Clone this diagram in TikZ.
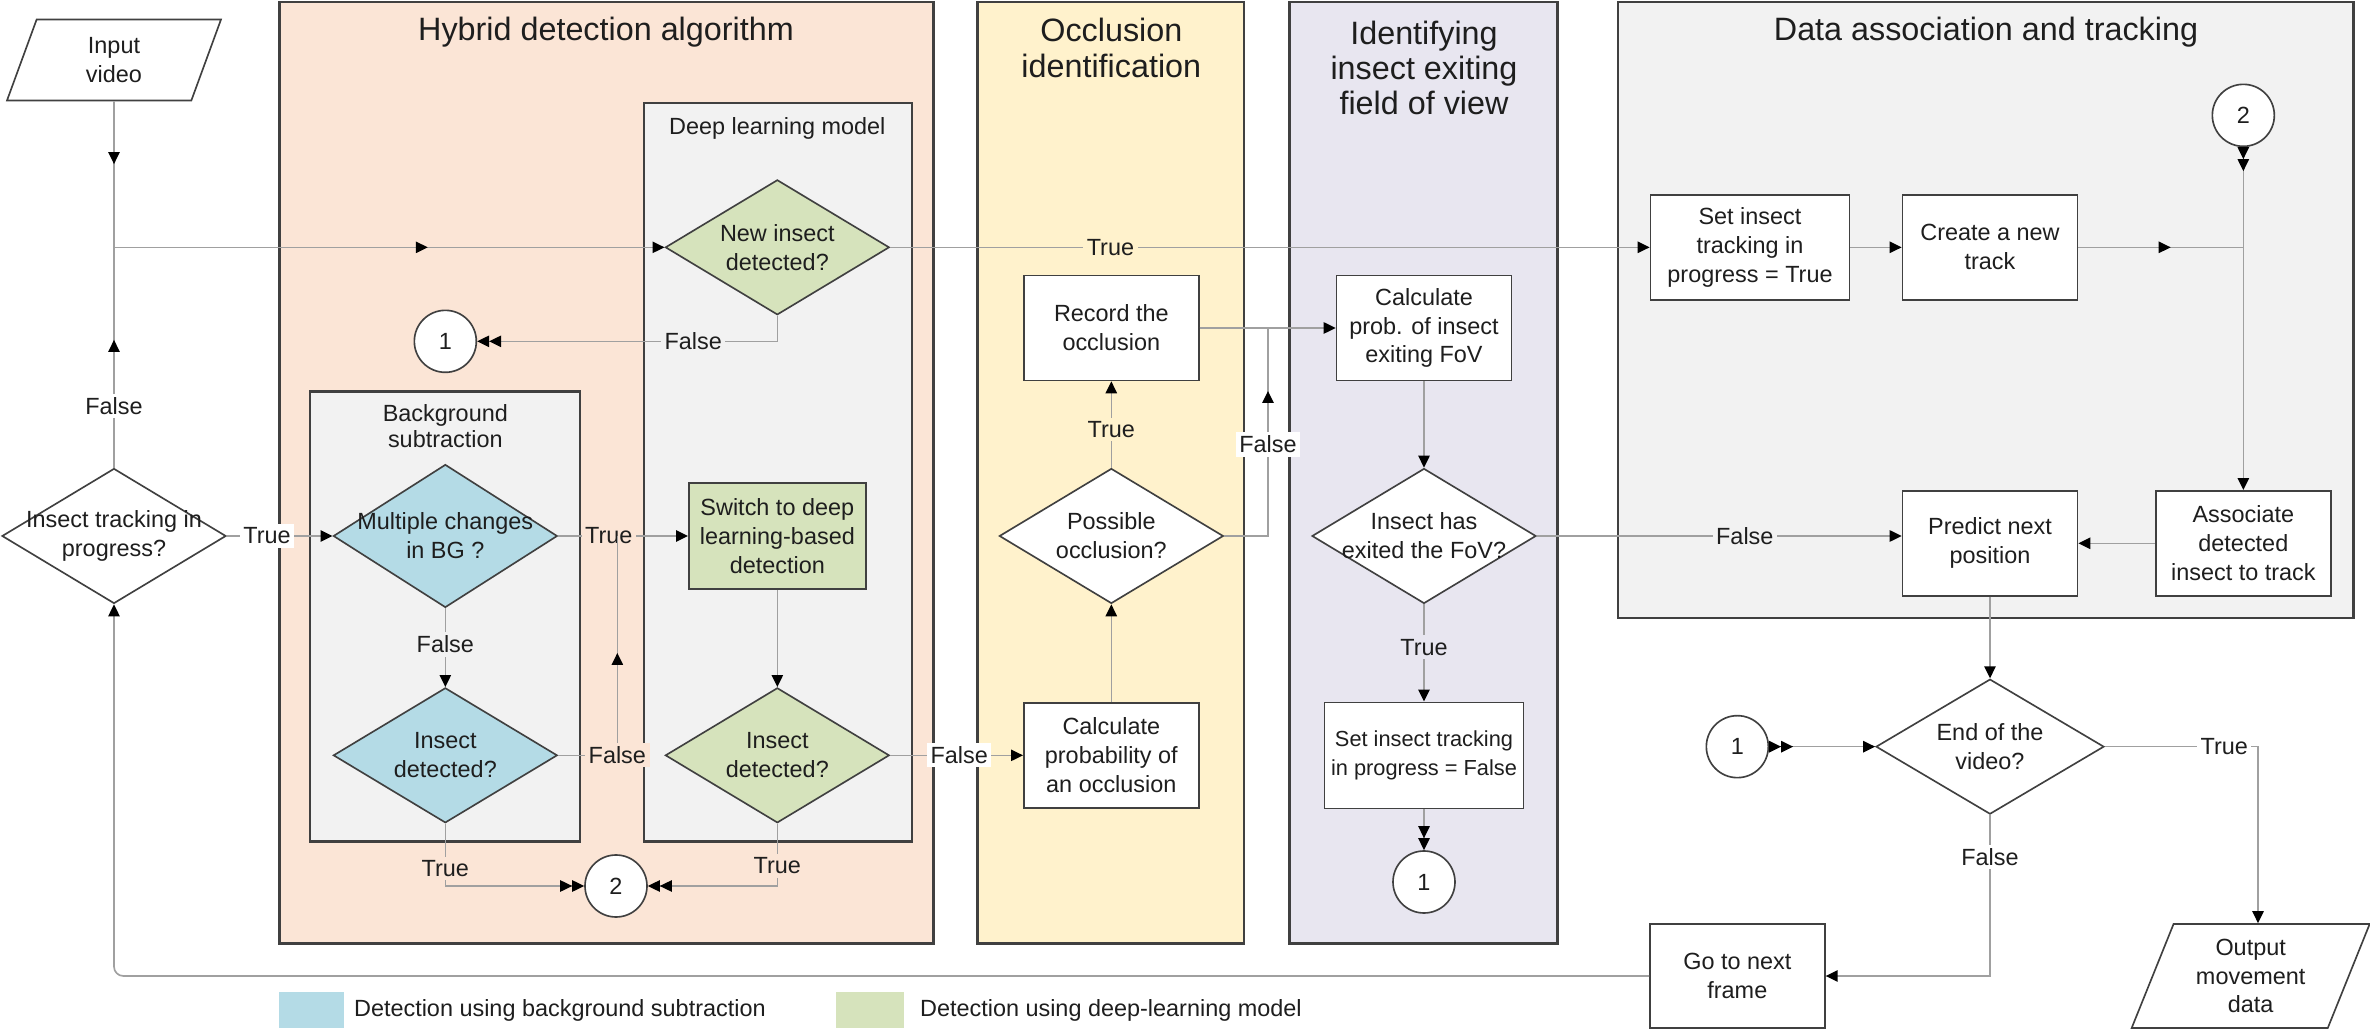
\documentclass[tikz,border=0pt]{standalone}
\usepackage{fontspec}
\setmainfont{Liberation Sans}
\usepackage{tikz}
\usetikzlibrary{arrows.meta,positioning,shapes.geometric,decorations.markings}
\definecolor{trpeach}{RGB}{251,229,214}
\definecolor{tryellow}{RGB}{255,242,204}
\definecolor{trlilac}{RGB}{232,230,240}
\definecolor{trgray}{RGB}{242,242,242}
\definecolor{trblue}{RGB}{180,219,230}
\definecolor{trgreen}{RGB}{214,227,188}
\definecolor{trline}{RGB}{160,160,160}
\definecolor{trborder}{RGB}{64,64,64}
\definecolor{trtext}{RGB}{30,30,30}
\newcommand{\trfont}{\fontsize{10}{12.3}\selectfont}
\newcommand{\trtitlefont}{\fontsize{13.8}{15}\selectfont}
\tikzset{
  trtip/.tip={Triangle[length=1.8mm, width=1.7mm, color=black]},
  trtipr/.tip={Triangle[length=1.8mm, width=1.7mm, color=black, reversed]},
  trbox/.style={draw=trborder, fill=#1, line width=0.7pt, align=center,
    font=\trfont, text=trtext, inner sep=1pt,
    minimum width=2.625cm, minimum height=1.575cm},
  trbox/.default=white,
  trdec/.style={diamond, draw=trborder, fill=#1, line width=0.7pt, inner sep=0pt,
    minimum width=3.36cm, minimum height=2.025cm},
  trdec/.default=white,
  trdtext/.style={align=center, font=\trfont, text=trtext},
  trconn/.style={circle, draw=trborder, fill=white, line width=0.7pt,
    minimum size=0.93cm, inner sep=0pt, font=\trfont, text=trtext},
  trio/.style={trapezium, trapezium left angle=64, trapezium right angle=116,
    trapezium stretches body, draw=trborder, fill=white, line width=0.7pt,
    align=center, font=\trfont, text=trtext},
  trpanel/.style={draw=trborder, line width=1pt},
  trtitle/.style={align=center, font=\trtitlefont, text=trtext},
  trsub/.style={align=center, font=\fontsize{10}{11.2}\selectfont, text=trtext},
  trflow/.style={draw=trline, line width=0.7pt},
  trarrow/.style={trflow, -{trtip}},
  trlbl/.style={fill=#1, inner sep=1.5pt, font=\trfont, text=trtext},
  trlbl/.default=white,
  trmid/.style={postaction={decorate}, decoration={markings,
    mark=at position #1 with {\arrow{trtip}}}}
}

\begin{document}
\begin{tikzpicture}
  \useasboundingbox (0,0) rectangle (35.55cm,-15.45cm);
  \fill[white] (0,0) rectangle (35.55cm,-15.45cm);
  \filldraw[trpanel, fill=trpeach] (4.19cm,-0.03cm) rectangle (14.00cm,-14.15cm);
  \filldraw[trpanel, fill=tryellow] (14.66cm,-0.03cm) rectangle (18.66cm,-14.15cm);
  \filldraw[trpanel, fill=trlilac] (19.34cm,-0.03cm) rectangle (23.36cm,-14.15cm);
  \filldraw[trpanel, fill=trgray] (24.27cm,-0.03cm) rectangle (35.30cm,-9.27cm);
  \filldraw[trpanel, fill=trgray] (4.65cm,-5.87cm) rectangle (8.70cm,-12.62cm);
  \filldraw[trpanel, fill=trgray] (9.66cm,-1.55cm) rectangle (13.68cm,-12.62cm);

  \node[trtitle] (hHyb) at (9.09cm,-0.48cm) {Hybrid detection algorithm};
  \node[trtitle] (hOcc) at (16.67cm,-0.72cm) {Occlusion\\identification};
  \node[trtitle] (hFov) at (21.36cm,-1.02cm) {Identifying\\insect exiting\\field of view};
  \node[trtitle] (hTrk) at (29.79cm,-0.48cm) {Data association and tracking};
  \node[trsub] (hDl) at (11.66cm,-1.92cm) {Deep learning model};
  \node[trsub] (hBg) at (6.68cm,-6.39cm) {Background\\subtraction};

  \node[trio, minimum width=3.21cm, minimum height=1.215cm] (nIn) at (1.71cm,-0.90cm) {Input\\video};
  \node[trdec, label={[trdtext]center:Insect tracking in\\progress?}] (nTrk) at (1.71cm,-8.04cm) {};
  \node[trdec=trblue, minimum height=2.145cm, label={[trdtext]center:Multiple changes\\in BG ?}] (nMul) at (6.68cm,-8.04cm) {};
  \node[trdec=trblue, label={[trdtext]center:Insect\\detected?}] (nBgDet) at (6.68cm,-11.33cm) {};
  \node[trdec=trgreen, label={[trdtext]center:New insect\\detected?}] (nNew) at (11.66cm,-3.71cm) {};
  \node[trbox=trgreen, minimum width=2.655cm, minimum height=1.59cm] (nSwi) at (11.66cm,-8.04cm) {Switch to deep\\learning-based\\detection};
  \node[trdec=trgreen, label={[trdtext]center:Insect\\detected?}] (nDlDet) at (11.66cm,-11.33cm) {};
  \node[trconn] (nC1a) at (6.68cm,-5.12cm) {1};
  \node[trconn] (nC2a) at (9.24cm,-13.29cm) {2};
  \node[trbox] (nCalcO) at (16.67cm,-11.33cm) {Calculate\\probability of\\an occlusion};
  \node[trdec, label={[trdtext]center:Possible\\occlusion?}] (nPoss) at (16.67cm,-8.04cm) {};
  \node[trbox] (nRec) at (16.67cm,-4.92cm) {Record the\\occlusion};
  \node[trbox] (nCalcF) at (21.36cm,-4.92cm) {Calculate\\prob. of insect\\exiting FoV};
  \node[trdec, label={[trdtext]center:Insect has\\exited the FoV?}] (nExit) at (21.36cm,-8.04cm) {};
  \node[trbox, minimum width=2.985cm, minimum height=1.59cm, font=\fontsize{9.3}{12}\selectfont] (nSetF) at (21.36cm,-11.33cm) {Set insect tracking\\in progress = False};
  \node[trconn] (nC1b) at (21.36cm,-13.23cm) {1};
  \node[trbox, minimum width=2.985cm] (nSetT) at (26.25cm,-3.71cm) {Set insect\\tracking in\\progress = True};
  \node[trbox] (nNewT) at (29.85cm,-3.71cm) {Create a new\\track};
  \node[trconn] (nC2b) at (33.65cm,-1.73cm) {2};
  \node[trbox] (nAsc) at (33.65cm,-8.15cm) {Associate\\detected\\insect to track};
  \node[trbox] (nPred) at (29.85cm,-8.15cm) {Predict next\\position};
  \node[trdec, minimum width=3.42cm, label={[trdtext]center:End of the\\video?}] (nEnd) at (29.85cm,-11.20cm) {};
  \node[trconn] (nC1c) at (26.06cm,-11.20cm) {1};
  \node[trbox, minimum height=1.56cm] (nNext) at (26.06cm,-14.64cm) {Go to next\\frame};
  \node[trio, trapezium left angle=65, trapezium right angle=115, minimum width=3.57cm, minimum height=1.56cm] (nOut) at (33.76cm,-14.64cm) {Output\\movement\\data};

  \coordinate (jA) at (1.71cm,-3.71cm);
  \coordinate (jB) at (9.26cm,-8.04cm);
  \coordinate (jC) at (19.02cm,-4.92cm);
  \coordinate (jD) at (33.65cm,-3.71cm);
  \coordinate (jE) at (33.87cm,-11.20cm);

  \draw[trflow, trmid=0.43] (nIn) -- (jA);
  \draw[trflow, trmid=0.58] (nTrk) -- node[trlbl, pos=0.28] {False} (jA);
  \draw[trarrow, trmid=0.57] (jA) -- (nNew);
  \draw[trarrow] (nNew) -- node[trlbl=tryellow, pos=0.29] {True} (nSetT);
  \draw[trflow, -{trtip[]trtip[]}] (nNew.south) |- node[trlbl=trgray, pos=0.64] {False} (nC1a);
  \draw[trarrow] (nTrk) -- node[trlbl, pos=0.38] {True} (nMul);
  \draw[trarrow] (nMul) -- node[trlbl=trpeach, pos=0.39] {True} (nSwi);
  \draw[trarrow] (nMul) -- node[trlbl=trgray, pos=0.46] {False} (nBgDet);
  \draw[trflow, trmid=0.58] (nBgDet.east) -| node[trlbl=trpeach, pos=0.5] {False} (jB);
  \draw[trflow, -{trtip[]trtip[]}] (nBgDet.south) |- node[trlbl=trpeach, pos=0.36] {True} (nC2a);
  \draw[trflow, -{trtip[]trtip[]}] (nDlDet.south) |- node[trlbl=trpeach, pos=0.34] {True} (nC2a);
  \draw[trarrow] (nSwi) -- (nDlDet);
  \draw[trarrow] (nDlDet) -- node[trlbl, pos=0.52] {False} (nCalcO);
  \draw[trarrow] (nCalcO) -- (nPoss);
  \draw[trarrow] (nPoss) -- node[trlbl=tryellow, pos=0.44] {True} (nRec);
  \draw[trarrow] (nRec) -- (nCalcF);
  \draw[trflow, trmid=0.75] (nPoss.east) -| node[trlbl, pos=0.72] {False} (jC);
  \draw[trarrow] (nCalcF) -- (nExit);
  \draw[trarrow] (nExit) -- node[trlbl=trlilac, pos=0.44] {True} (nSetF);
  \draw[trflow, -{trtip[]trtip[]}] (nSetF) -- (nC1b);
  \draw[trarrow] (nExit.east) -- node[trlbl=trgray, pos=0.57] {False} (nExit.east -| nPred.west);
  \draw[trarrow] (nAsc.west) -- (nAsc.west -| nPred.east);
  \draw[trarrow] (nSetT) -- (nNewT);
  \draw[trflow, trmid=0.56] (nNewT) -- (jD);
  \draw[trflow, {trtipr[]trtipr[]}-{trtip}] (nC2b) -- (nAsc);
  \draw[trarrow] (nPred) -- (nEnd);
  \draw[trflow, {trtipr[]trtipr[]}-{trtip}] (nC1c) -- (nEnd);
  \draw[trarrow] (nEnd.east) -- node[trlbl, pos=0.78] {True} (jE) -- (jE |- nOut.north);
  \draw[trarrow] (nEnd.south) |- node[trlbl, pos=0.13] {False} (nNext);
  \draw[trarrow, rounded corners=4pt] (nNext) -| (nTrk);

  \node[fill=trblue, minimum width=0.97cm, minimum height=0.54cm, inner sep=0pt] (kBg) at (4.675cm,-15.15cm) {};
  \node[trsub, right=0.02cm of kBg] (lBg) {Detection using background subtraction};
  \node[fill=trgreen, minimum width=1.02cm, minimum height=0.54cm, inner sep=0pt] (kDl) at (13.05cm,-15.15cm) {};
  \node[trsub, right=0.11cm of kDl] (lDl) {Detection using deep-learning model};
\end{tikzpicture}
\end{document}
